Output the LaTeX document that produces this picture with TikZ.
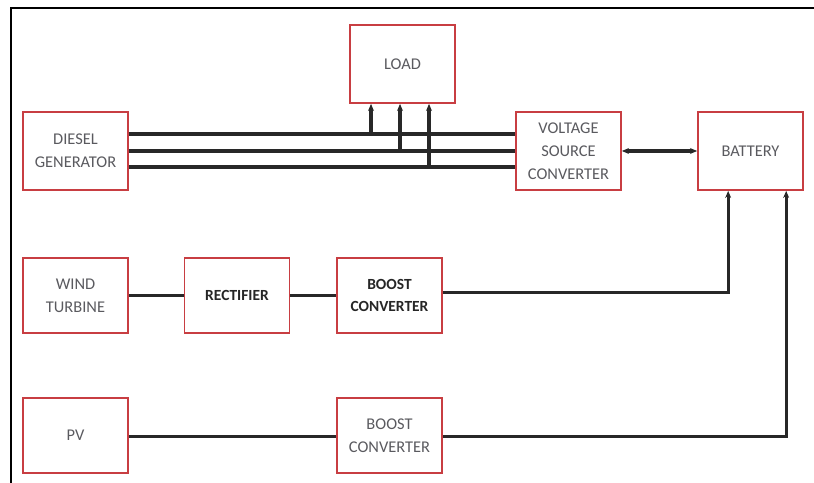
\documentclass[tikz,border=0pt]{standalone}
\usepackage{fontspec}
\setmainfont{Carlito}
\usepackage{xcolor}
\usepackage{tikz}
\usetikzlibrary{arrows.meta,calc,positioning}

\definecolor{boxred}{RGB}{200,62,66}
\definecolor{txtgrey}{RGB}{90,90,95}
\definecolor{wiregrey}{RGB}{40,40,40}

\begin{document}
\begin{tikzpicture}[
  x=0.03cm, y=-0.03cm,
  font=\fontsize{14}{19.5}\selectfont,
  blk/.style={draw=boxred, line width=1.5pt, fill=white, minimum width=3.15cm, minimum height=#1, align=center, text=txtgrey},
  blk/.default=2.34cm,
  bold/.style={font=\fontsize{13.2}{19.5}\selectfont\bfseries, text=black!85},
  wire/.style={draw=wiregrey, line width=2.6pt},
  arrow/.style={wire, -{Stealth[length=6pt,width=5pt]}},
  frame/.style={draw=black, line width=1.4pt},
]
\useasboundingbox (0,0) rectangle (814,483);

%% ---- Frame ----
\draw[frame] (814,8) -- (11,8) -- (11,483);

%% ---- Top row ----
\node[blk]        (load) at (402.5,64)  {LOAD};
\node[blk]        (dg)   at (75.5,151)  {DIESEL\\GENERATOR};
\node[blk]        (vsc)  at (568.5,151) {VOLTAGE\\SOURCE\\CONVERTER};
\node[blk]        (bat)  at (750.5,151) {BATTERY};

%% ---- Wind row ----
\node[blk=2.25cm] (wt)   at (75.5,295.5)  {WIND\\TURBINE};
\node[blk=2.25cm, bold] (rect) at (237,295.5)   {RECTIFIER};
\node[blk=2.25cm, bold] (bc1)  at (389.5,295.5) {BOOST\\CONVERTER};

%% ---- PV row ----
\node[blk=2.25cm] (pv)   at (75.5,435.5)  {PV};
\node[blk=2.25cm] (bc2)  at (389.5,435.5) {BOOST\\CONVERTER};

%% ---- Diesel bus to VSC ----
\draw[wire] ([yshift=0.51cm]dg.east)  -- ([yshift=0.51cm]vsc.west);
\draw[wire] (dg.east)                 -- (vsc.west);
\draw[wire] ([yshift=-0.48cm]dg.east) -- ([yshift=-0.48cm]vsc.west);

%% ---- Taps to load ----
\coordinate (tapA) at (371,134);
\coordinate (tapB) at (400,151);
\coordinate (tapC) at (429,167);
\draw[arrow] (tapA) -- (tapA |- load.south);
\draw[arrow] (tapB) -- (tapB |- load.south);
\draw[arrow] (tapC) -- (tapC |- load.south);

%% ---- VSC <-> battery ----
\draw[wire, {Stealth[length=6pt,width=5pt]}-{Stealth[length=6pt,width=5pt]}] (vsc.east) -- (bat.west);

%% ---- Wind chain ----
\draw[wire] (wt.east) -- (rect.west);
\draw[wire] (rect.east) -- (bc1.west);
\draw[arrow] ([yshift=0.08cm]bc1.east) -| ([xshift=-0.67cm]bat.south);

%% ---- PV chain ----
\draw[wire] ([yshift=-0.04cm]pv.east) -- ([yshift=-0.04cm]bc2.west);
\draw[arrow] ([yshift=-0.04cm]bc2.east) -| ([xshift=1.07cm]bat.south);

\end{tikzpicture}
\end{document}
